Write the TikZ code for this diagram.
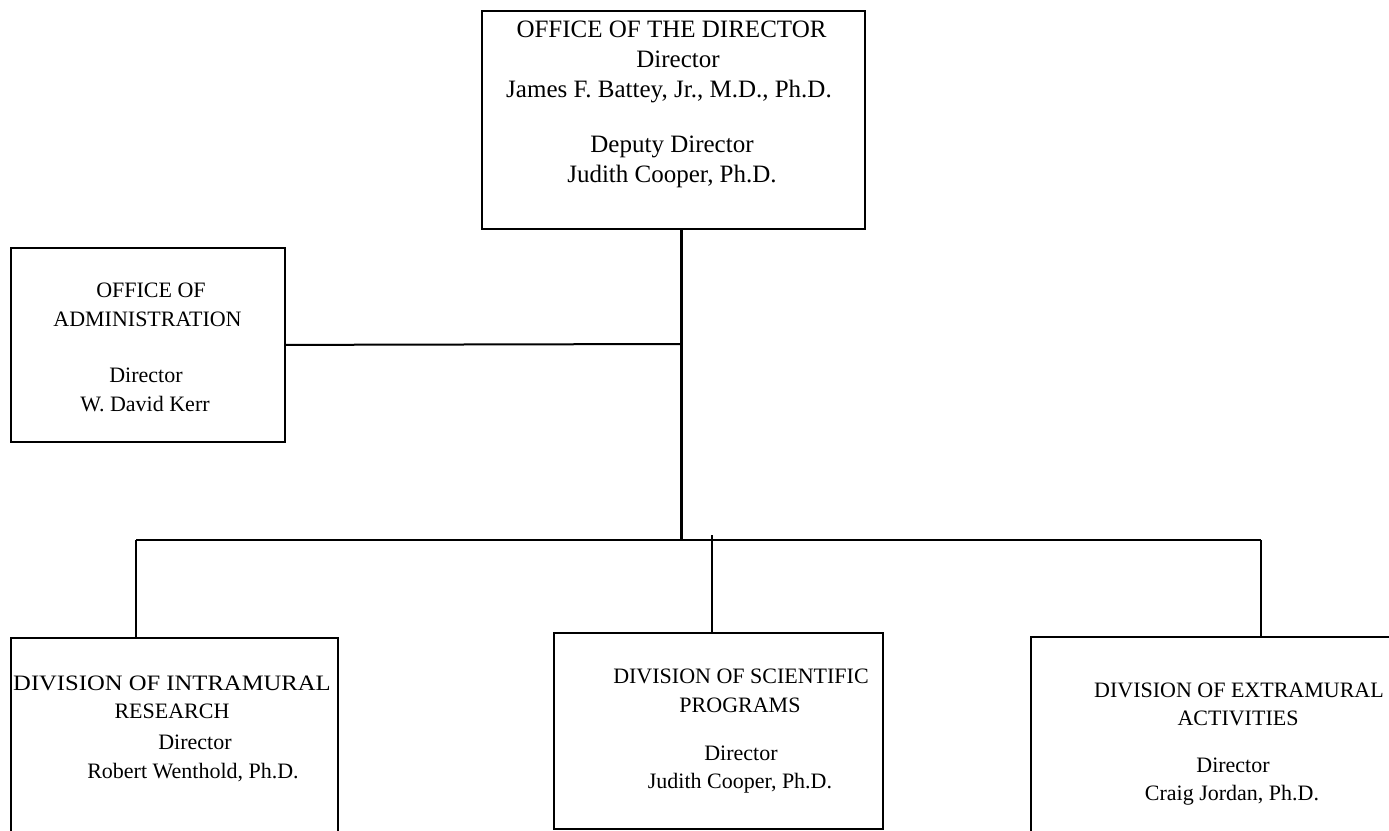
\documentclass[tikz,border=0pt]{standalone}
\usepackage{fontspec}
\setmainfont{Liberation Serif}
\begin{document}
\begin{tikzpicture}[x=1pt,y=-1pt,
  box/.style={draw, line width=1.8pt, rectangle, anchor=north west, inner sep=0pt},
  conn/.style={line width=2pt},
  trunk/.style={line width=3pt},
  big/.style={anchor=base, inner sep=0pt, font=\fontsize{25}{30}\selectfont},
  txt/.style={anchor=base, inner sep=0pt, font=\fontsize{22}{28}\selectfont}]
\useasboundingbox (0,0) rectangle (1389,830);
\clip (0,0) rectangle (1389,830);
% boxes
\node[box, minimum width=383pt, minimum height=218pt] (dir) at (481,10) {};
\node[box, minimum width=274pt, minimum height=194pt] (adm) at (10,247) {};
\node[box, minimum width=327pt, minimum height=260pt] (dir1) at (10,637) {};
\node[box, minimum width=329pt, minimum height=196pt] (dsp) at (553,632) {};
\node[box, minimum width=450pt, minimum height=260pt] (dea) at (1030,636) {};
% top box text
\node[big] (t1) at (671.5,37) {OFFICE OF THE DIRECTOR};
\node[big] (t2) at (678,67) {Director};
\node[big] (t3) at (669,97) {James F. Battey, Jr., M.D., Ph.D.};
\node[big] (t4) at (672,152) {Deputy Director};
\node[big] (t5) at (672,182) {Judith Cooper, Ph.D.};
% admin text
\node[txt] (a1) at (151,297) {OFFICE OF};
\node[txt] (a2) at (147.5,326) {ADMINISTRATION};
\node[txt] (a3) at (146,382) {Director};
\node[txt] (a4) at (145,411) {W. David Kerr};
% intramural
\node[txt] (l1) at (172,690) {\scalebox{1.12}[1]{DIVISION OF INTRAMURAL}};
\node[txt] (l2) at (172,718) {RESEARCH};
\node[txt] (l3) at (195,749) {Director};
\node[txt] (l4) at (193,778) {Robert Wenthold, Ph.D.};
% scientific programs
\node[txt] (m1) at (741,683) {DIVISION OF SCIENTIFIC};
\node[txt] (m2) at (740,712) {PROGRAMS};
\node[txt] (m3) at (741,760) {Director};
\node[txt] (m4) at (740,788) {Judith Cooper, Ph.D.};
% extramural
\node[txt] (r1) at (1239,697) {DIVISION OF EXTRAMURAL};
\node[txt] (r2) at (1238,725) {ACTIVITIES};
\node[txt] (r3) at (1233,772) {Director};
\node[txt] (r4) at (1232,800) {Craig Jordan, Ph.D.};
% junctions
\coordinate (tj) at (681,228);
\coordinate (aj) at (681,344);
\coordinate (bj) at (681,540);
\coordinate (bl) at (136,540);
\coordinate (bm) at (712,535);
\coordinate (br) at (1261,540);
% connectors
\draw[trunk] (tj) -- (bj);
\draw[conn] (adm.east) -- (aj);
\draw[conn] (bl) -- (br);
\draw[conn, line width=2.5pt] (bl) -- (bl |- dir1.north);
\draw[conn, line width=2.5pt] (bm) -- (bm |- dsp.north);
\draw[conn, line width=2.5pt] (br) -- (br |- dea.north);
\end{tikzpicture}
\end{document}
